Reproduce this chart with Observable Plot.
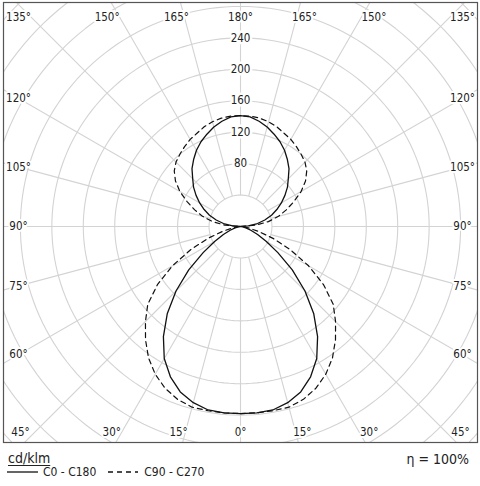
<!DOCTYPE html>
<html><head><meta charset="utf-8">
<script src="https://cdn.jsdelivr.net/npm/d3@7"></script>
<script src="https://cdn.jsdelivr.net/npm/@observablehq/plot@0.6"></script>
<style>
html,body{margin:0;padding:0;background:#fff;}
body{font-family:"DejaVu Sans Condensed","DejaVu Sans",sans-serif;color:#222;}
#chart{width:480px;height:445px;}
#legend{position:relative;width:480px;height:41px;}
#unit{position:absolute;left:8px;top:5px;font-size:14px;text-decoration:underline;text-underline-offset:2px;}
#eta{position:absolute;right:11px;top:6px;font-size:14px;}
#keys{position:absolute;left:7px;top:20px;font-size:12px;display:flex;align-items:center;white-space:nowrap;}
#keys svg{display:block;}
</style></head><body>
<div id="chart"></div>
<div id="legend"><span id="unit"></span><span id="eta"></span><div id="keys"></div></div>
<script>
// ---- data ----
const gamma = [0,5,10,15,20,25,30,35,40,45,50,55,60,65,70,75,80,85,90,95,100,105,110,115,120,125,130,135,140,145,150,155,160,165,170,175,180];
const c0c180 = [238,238,237,232,224,211,194,171,145,116,86,58,38,24,14,7,3,1,0,10,22,32,42,51,60,69,78,86,96,104,112,119,125,131,136,140,141];
const c90c270 = [238,238,238,238,234,227,217,204,188,171,154,129,100,70,44,23,10,3,0,20,36,50,62,75,89,101,110,116,120,124,128,131,135,138,140,141,141];
const seriesNames = ["C0 - C180", "C90 - C270"];
const ringValues = [40,80,120,160,200,240,280,320,360,400];
const ringLabels = [80,120,160,200,240];
const spokeAngles = [0,15,30,45,60,75,90,105,120,135,150,165,180];
const unitLabel = "cd/klm";
const etaLabel = "η = 100%";

// ---- layout ----
const W = 480, H = 445, mL = 3, mR = 3, mT = 2, mB = 3;
const xDomain = [-301.5, 301.5];
const yDomain = [-274.8, 285.0];
const k = (W - mL - mR) / (xDomain[1] - xDomain[0]); // px per cd
const rad = Math.PI / 180;
const font = '"DejaVu Sans Condensed","DejaVu Sans",sans-serif';

// curves: right half (C0 / C90) then left half (C180 / C270)
function outline(values, name) {
  const pts = [];
  gamma.forEach((g, i) => pts.push({s: name, x: values[i] * Math.sin(g * rad), y: -values[i] * Math.cos(g * rad)}));
  for (let i = gamma.length - 1; i >= 0; i--) {
    const g = gamma[i];
    pts.push({s: name, x: -values[i] * Math.sin(g * rad), y: -values[i] * Math.cos(g * rad)});
  }
  return pts;
}
const solid = outline(c0c180, seriesNames[0]);
const dashed = outline(c90c270, seriesNames[1]);

// grid rings
const rings = [];
for (const R of ringValues) for (let t = 0; t <= 360; t += 2) rings.push({R, x: R * Math.sin(t * rad), y: R * Math.cos(t * rad)});

// spokes
const spokes = [];
for (const a of spokeAngles) for (const s of (a === 0 || a === 180) ? [1] : [-1, 1]) {
  const dx = s * Math.sin(a * rad), dy = -Math.cos(a * rad);
  spokes.push({x1: 40 * dx, y1: 40 * dy, x2: 600 * dx, y2: 600 * dy});
}

// angle labels, placed where each spoke reaches the frame
const xL = xDomain[0] + 15 / k, xR = xDomain[1] - 15 / k;
const yTop = yDomain[1] - 15 / k, yBot = yDomain[0] + 10 / k;
const angleLabels = [];
for (const a of spokeAngles) for (const s of (a === 0 || a === 180) ? [1] : [-1, 1]) {
  const dx = s * Math.sin(a * rad), dy = -Math.cos(a * rad);
  const tx = Math.abs(dx) > 1e-9 ? (dx > 0 ? xR : xL) / dx : Infinity;
  const ty = Math.abs(dy) > 1e-9 ? (dy > 0 ? yDomain[1] : yDomain[0]) / dy : Infinity;
  let x, y;
  if (tx < ty) {
    x = dx > 0 ? xR : xL;
    y = Math.max(yBot, Math.min(yTop, tx * dy));
  } else {
    x = ty * dx + (a === 0 || a === 180 ? 0 : s * 4 / k);
    x = Math.max(xL, Math.min(xR, x));
    y = dy > 0 ? yTop : yBot;
  }
  angleLabels.push({x, y, text: a + "°"});
}

const chart = Plot.plot({
  width: W, height: H,
  marginLeft: mL, marginRight: mR, marginTop: mT, marginBottom: mB,
  x: {domain: xDomain, axis: null},
  y: {domain: yDomain, axis: null},
  style: {fontFamily: font, background: "#fff"},
  marks: [
    Plot.line(rings, {x: "x", y: "y", z: "R", stroke: "#d3d3d3", strokeWidth: 1.1, clip: true}),
    Plot.link(spokes, {x1: "x1", y1: "y1", x2: "x2", y2: "y2", stroke: "#d3d3d3", strokeWidth: 1.1, clip: true}),
    Plot.text(ringLabels, {x: 0, y: d => d, text: d => String(d), fontSize: 11.5, fill: "#222", stroke: "#fff", strokeWidth: 5}),
    Plot.text(angleLabels, {x: "x", y: "y", text: "text", fontSize: 11.5, fill: "#222", stroke: "#fff", strokeWidth: 4}),
    Plot.line(dashed, {x: "x", y: "y", stroke: "#111", strokeWidth: 1.2, strokeDasharray: "5,4", clip: true}),
    Plot.line(solid, {x: "x", y: "y", stroke: "#111", strokeWidth: 1.3, clip: true}),
    Plot.frame({stroke: "#555", strokeWidth: 1.2})
  ]
});
document.getElementById("chart").appendChild(chart);

document.getElementById("unit").textContent = unitLabel;
document.getElementById("eta").textContent = etaLabel;
const keys = document.getElementById("keys");
seriesNames.forEach((name, i) => {
  const svg = d3.create("svg").attr("width", i === 0 ? 32 : 30).attr("height", 6).style("margin-left", i === 0 ? "0px" : "12px").style("margin-right", i === 0 ? "4px" : "6px");
  svg.append("line").attr("x1", 0).attr("x2", i === 0 ? 31 : 30).attr("y1", 3).attr("y2", 3)
    .attr("stroke", "#111").attr("stroke-width", 1.3).attr("stroke-dasharray", i === 0 ? null : "5,4");
  keys.appendChild(svg.node());
  const sp = document.createElement("span");
  sp.textContent = name;
  keys.appendChild(sp);
});
</script>
</body></html>
